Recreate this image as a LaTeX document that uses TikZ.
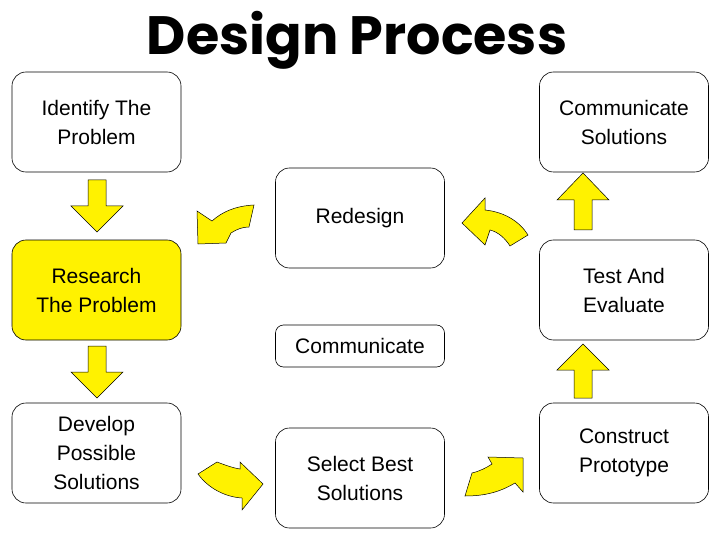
\documentclass[tikz,border=0pt]{standalone}
\usepackage{fontspec}
\setmainfont{Liberation Sans}
\newfontfamily\titlefont{Poppins}
\begin{document}
\begin{tikzpicture}[x=1pt,y=-1pt,
 box/.style={draw,rounded corners=14pt,minimum width=169pt,minimum height=100pt,align=center,font=\fontsize{21}{29}\selectfont,line width=0.6pt},
 arr/.style={draw=black,fill=yellow,line width=0.5pt}]
\useasboundingbox (0,0) rectangle (720,540);
\node[font=\titlefont\bfseries\fontsize{54}{60}\selectfont] (t) at (357,40) {Design Process};
\node[box] (a) at (96.5,122) {Identify The\\Problem};
\node[box] (b) at (624,122) {Communicate\\Solutions};
\node[box] (c) at (360,218) {Redesign};
\node[box,fill=yellow] (d) at (96.5,290) {Research\\The Problem};
\node[box] (e) at (624,290) {Test And\\Evaluate};
\node[box,minimum height=42pt,rounded corners=8pt] (f) at (360,346) {Communicate};
\node[box] (g) at (96.5,453) {Develop\\Possible\\Solutions};
\node[box] (h) at (360,478) {Select Best\\Solutions};
\node[box] (i) at (624,453) {Construct\\Prototype};
% straight arrows
\draw[arr] (88,180) -- (106,180) -- (106,206) -- (123,206) -- (97,232) -- (71,206) -- (88,206) -- cycle;
\draw[arr] (88,346) -- (106,346) -- (106,372) -- (123,372) -- (97,398) -- (71,372) -- (88,372) -- cycle;
\draw[arr] (574,230) -- (592,230) -- (592,200) -- (609,200) -- (583,173) -- (557,200) -- (574,200) -- cycle;
\draw[arr] (574,398) -- (592,398) -- (592,370) -- (609,370) -- (583,344) -- (557,370) -- (574,370) -- cycle;
% curved arrows
\draw[arr] (254,205) .. controls (235,206) and (222,212) .. (212,221) -- (197,211) -- (198,244) -- (226,243) -- (231,233) .. controls (237,229) and (243,227) .. (249,227) -- cycle;
\draw[arr] (462,223) -- (485,198) -- (485,210) .. controls (505,212) and (520,222) .. (528,235) -- (510,246) .. controls (505,238) and (498,232) .. (490,230) -- (485,245) -- cycle;
\draw[arr] (217,462) .. controls (225,465) and (233,468) .. (240,469) -- (240,462) -- (263,484) -- (242,510) -- (242,498) .. controls (225,497) and (208,488) .. (198,474) -- cycle;
\draw[arr] (465,496) -- (472,473) .. controls (480,471) and (486,468) .. (492,464) -- (488,457) -- (523,458) -- (523,492) -- (515,483) .. controls (500,492) and (485,496) .. (465,496) -- cycle;
\end{tikzpicture}
\end{document}
